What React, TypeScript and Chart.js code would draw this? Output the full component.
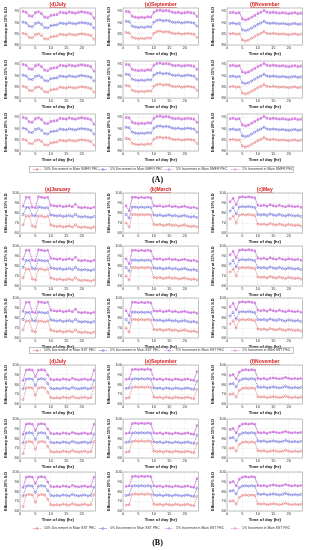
import React, { useEffect, useRef } from "react";
import { Chart, registerables } from "chart.js";
Chart.register(...registerables);

const hours = [1, 2, 3, 4, 5, 6, 7, 8, 9, 10, 11, 12, 13, 14, 15, 16, 17, 18, 19, 20, 21, 22, 23, 24];
const xTicks = [0, 5, 10, 15, 20];
const aYTicks = [80, 85, 90, 95];
const bYTicks = [60, 70, 80, 90, 100];
const rowLabels = ["Efficiency at 10% S.D", "Efficiency at 15% S.D", "Efficiency at 20% S.D"];
const legendA = ["10% Decrement in Main SMFR PEC", "5% Decrement in Main SMFR PEC", "5% Increment in Main SMFR PEC", "1% Increment in Main SMFR PEC"];
const legendB = ["10% Decrement in Main SST PEC", "5% Decrement in Main SST PEC", "5% Increment in Main SST PEC", "1% Increment in Main SST PEC"];
const titlesA = ["(d)July", "(e)September", "(f)November"];
const titlesB1 = ["(a)January", "(b)March", "(c)May"];
const titlesB2 = ["(d)July", "(e)September", "(f)November"];

// Section A (SMFR)
const aJulDec10 = [85.2, 84.8, 83.4, 83.2, 84.6, 85.0, 84.2, 82.8, 82.6, 83.6, 83.8, 84.0, 84.8, 84.6, 84.4, 84.9, 84.6, 84.4, 84.8, 85.0, 84.8, 84.6, 84.2, 82.6];
const aJulDec5 = [90.2, 89.8, 88.4, 88.2, 89.6, 90.0, 89.2, 87.8, 87.6, 88.6, 88.8, 89.0, 89.8, 89.6, 89.4, 89.9, 89.6, 89.4, 89.8, 90.0, 89.8, 89.6, 89.2, 87.6];
const aJulInc5 = [94.8, 94.4, 92.8, 92.6, 94.2, 94.6, 93.8, 92.2, 92.0, 93.0, 93.2, 93.4, 94.4, 94.2, 94.0, 94.5, 94.2, 94.0, 94.4, 94.6, 94.4, 94.2, 93.8, 91.8];
const aJulInc1 = [95.2, 94.8, 93.2, 93.0, 94.6, 95.0, 94.2, 92.6, 92.4, 93.4, 93.6, 93.8, 94.8, 94.6, 94.4, 94.9, 94.6, 94.4, 94.8, 95.0, 94.8, 94.6, 94.2, 92.2];

const aSepDec10 = [85.6, 85.4, 83.4, 83.0, 82.8, 83.0, 82.8, 83.2, 83.0, 85.2, 86.0, 86.2, 85.8, 86.0, 85.8, 85.2, 85.0, 85.2, 84.8, 85.0, 85.2, 85.0, 84.8, 83.4];
const aSepDec5 = [90.6, 90.4, 88.4, 88.0, 87.8, 88.0, 87.8, 88.2, 88.0, 90.2, 91.0, 91.2, 90.8, 91.0, 90.8, 90.2, 90.0, 90.2, 89.8, 90.0, 90.2, 90.0, 89.8, 88.4];
const aSepInc5 = [94.8, 94.6, 92.6, 92.2, 92.0, 92.2, 92.0, 92.4, 92.2, 94.4, 95.2, 95.4, 95.0, 95.2, 95.0, 94.4, 94.2, 94.4, 94.0, 94.2, 94.4, 94.2, 94.0, 92.6];
const aSepInc1 = [95.2, 95.0, 93.0, 92.6, 92.4, 92.6, 92.4, 92.8, 92.6, 94.8, 95.6, 95.8, 95.4, 95.6, 95.4, 94.8, 94.6, 94.8, 94.4, 94.6, 94.8, 94.6, 94.4, 93.0];

const aNovDec10 = [85.0, 85.2, 84.8, 85.0, 82.2, 81.8, 82.2, 83.0, 83.8, 84.6, 85.2, 86.0, 85.2, 85.0, 85.2, 85.0, 84.8, 85.0, 84.8, 84.6, 84.8, 85.0, 84.6, 84.8];
const aNovDec5 = [89.6, 89.8, 89.4, 89.6, 86.8, 86.4, 86.8, 87.6, 88.4, 89.2, 89.8, 90.6, 89.8, 89.6, 89.8, 89.6, 89.4, 89.6, 89.4, 89.2, 89.4, 89.6, 89.2, 89.4];
const aNovInc5 = [94.2, 94.4, 94.0, 94.2, 91.4, 91.0, 91.4, 92.2, 93.0, 93.8, 94.4, 95.2, 94.4, 94.2, 94.4, 94.2, 94.0, 94.2, 94.0, 93.8, 94.0, 94.2, 93.8, 94.0];
const aNovInc1 = [94.6, 94.8, 94.4, 94.6, 91.8, 91.4, 91.8, 92.6, 93.4, 94.2, 94.8, 95.6, 94.8, 94.6, 94.8, 94.6, 94.4, 94.6, 94.4, 94.2, 94.4, 94.6, 94.2, 94.4];

// Section B (SST) January, March, May
const bJanDec10 = [68, 77, 77, 67, 66, 77, 77, 76, 77, 68, 67, 66.5, 67, 66, 66.5, 67, 66, 68, 66, 65.5, 66, 65.5, 65, 66];
const bJanDec5 = [78.5, 85.5, 85.5, 77.5, 77, 86, 85.5, 85, 85.5, 78, 77.5, 77, 77.5, 76.5, 77, 77.5, 76.5, 78.5, 76.5, 76, 76.5, 76, 75.5, 76.5];
const bJanInc5 = [86.5, 95.5, 95.5, 85.5, 85, 96, 95.5, 95, 95.5, 87.5, 87, 86.5, 87, 86, 86.5, 87, 86, 88.5, 85.5, 85, 85.5, 85, 84.5, 85.5];
const bJanInc1 = [87, 96, 96, 86, 85.5, 96.5, 96, 95.5, 96, 88, 87.5, 87, 87.5, 86.5, 87, 87.5, 86.5, 89, 86, 85.5, 86, 85.5, 85, 86];

const bMarDec10 = [70, 66, 78.5, 78.5, 78, 78.5, 78, 78.5, 78, 68.5, 68, 68.5, 67.5, 68, 68.5, 67.5, 68, 67, 67.5, 68, 67, 66.5, 67, 66];
const bMarDec5 = [78.5, 75, 86, 86, 85.5, 86, 85.5, 86, 85.5, 78, 77.5, 78, 77, 77.5, 78, 77, 77.5, 76.5, 77, 77.5, 76.5, 76, 76.5, 75.5];
const bMarInc5 = [87, 82, 95.5, 95.5, 95, 95.5, 95, 95.5, 95, 87, 86.5, 87, 86, 86.5, 87, 86, 86.5, 85.5, 86, 86.5, 85.5, 85, 85.5, 84.5];
const bMarInc1 = [87.5, 82.5, 96, 96, 95.5, 96, 95.5, 96, 95.5, 87.5, 87, 87.5, 86.5, 87, 87.5, 86.5, 87, 86, 86.5, 87, 86, 85.5, 86, 85];

const bMayDec10 = [74, 77, 70, 78, 78.5, 78, 78.5, 78, 77.5, 69, 68.5, 69, 68, 69.5, 68.5, 68, 69, 68, 67.5, 68.5, 68, 67.5, 68, 67];
const bMayDec5 = [82, 85.5, 79, 86, 86.5, 86, 86.5, 86, 85.5, 78.5, 78, 78.5, 77.5, 79, 78, 77.5, 78.5, 77.5, 77, 78, 77.5, 77, 77.5, 76.5];
const bMayInc5 = [91, 94.5, 88, 95.5, 96, 95.5, 96, 95.5, 95, 87.5, 87, 87.5, 86.5, 88, 87, 86.5, 87.5, 86.5, 86, 87, 86.5, 86, 86.5, 85.5];
const bMayInc1 = [91.5, 95, 88.5, 96, 96.5, 96, 96.5, 96, 95.5, 88, 87.5, 88, 87, 88.5, 87.5, 87, 88, 87, 86.5, 87.5, 87, 86.5, 87, 86];

// Section B (SST) July, September, November
const bJulDec10 = [64.5, 76.5, 77, 76.5, 69, 76.5, 77, 76.5, 72, 66.5, 66, 66.5, 66, 67, 66.5, 66, 67.5, 66.5, 66, 66.5, 67, 66, 66.5, 77];
const bJulDec5 = [75.5, 85.5, 86, 85.5, 79, 85.5, 86, 85.5, 81, 76, 75.5, 76, 75.5, 76.5, 76, 75.5, 77, 76, 75.5, 76, 76.5, 75.5, 76, 84.5];
const bJulInc5 = [84, 94.5, 95, 94.5, 88, 94.5, 95, 94.5, 89.5, 85, 84.5, 85, 84.5, 85.5, 85, 84.5, 86, 85, 84.5, 85, 85.5, 84.5, 85, 94.5];
const bJulInc1 = [84.5, 95, 95.5, 95, 88.5, 95, 95.5, 95, 90, 85.5, 85, 85.5, 85, 86, 85.5, 85, 86.5, 85.5, 85, 85.5, 86, 85, 85.5, 95];

const bSepDec10 = [66, 66.5, 77, 77.5, 77, 77.5, 77, 77.5, 77, 67, 66.5, 67, 66, 67, 66.5, 66, 67, 66.5, 66, 66.5, 67, 66, 65.5, 75];
const bSepDec5 = [76, 76.5, 85.5, 86, 85.5, 86, 85.5, 86, 85.5, 76.5, 76, 76.5, 75.5, 76.5, 76, 75.5, 76.5, 76, 75.5, 76, 76.5, 75.5, 75, 83.5];
const bSepInc5 = [85, 85.5, 95, 95.5, 95, 95.5, 95, 95.5, 95, 85.5, 85, 85.5, 84.5, 85.5, 85, 84.5, 85.5, 85, 84.5, 85, 85.5, 84.5, 84, 93];
const bSepInc1 = [85.5, 86, 95.5, 96, 95.5, 96, 95.5, 96, 95.5, 86, 85.5, 86, 85, 86, 85.5, 85, 86, 85.5, 85, 85.5, 86, 85, 84.5, 93.5];

const bNovDec10 = [70, 70.5, 67, 74, 76, 76.5, 76, 76.5, 76, 67.5, 67, 67.5, 66.5, 67, 67.5, 67, 66.5, 67, 68, 67, 66.5, 67, 66.5, 67];
const bNovDec5 = [80.5, 81, 77.5, 84, 85.5, 86, 85.5, 86, 85.5, 77.5, 77, 77.5, 76.5, 77, 77.5, 77, 76.5, 77, 78, 77, 76.5, 77, 76.5, 77];
const bNovInc5 = [89, 90, 85.5, 92.5, 94.5, 95, 94.5, 95, 94.5, 86, 85.5, 86, 85, 86, 86.5, 86, 85.5, 86, 87, 86, 85.5, 86, 85.5, 86];
const bNovInc1 = [89.5, 90.5, 86, 93, 95, 95.5, 95, 95.5, 95, 86.5, 86, 86.5, 85.5, 86.5, 87, 86.5, 86, 86.5, 87.5, 86.5, 86, 86.5, 86, 86.5];

const seriesColors = ["#e06666", "#5b5bd6", "#b56ee0", "#e872d2"];
const seriesShapes = ["circle", "circle", "triangle", "rect"];

const monthsA = [
  [aJulDec10, aJulDec5, aJulInc5, aJulInc1],
  [aSepDec10, aSepDec5, aSepInc5, aSepInc1],
  [aNovDec10, aNovDec5, aNovInc5, aNovInc1],
];
const monthsB1 = [
  [bJanDec10, bJanDec5, bJanInc5, bJanInc1],
  [bMarDec10, bMarDec5, bMarInc5, bMarInc1],
  [bMayDec10, bMayDec5, bMayInc5, bMayInc1],
];
const monthsB2 = [
  [bJulDec10, bJulDec5, bJulInc5, bJulInc1],
  [bSepDec10, bSepDec5, bSepInc5, bSepInc1],
  [bNovDec10, bNovDec5, bNovInc5, bNovInc1],
];

const colPlotLeft = [20, 123, 227];
const plotW = 77;
const padL = 20;
const padT = 8;
const padB = 13;
const padR = 3;
const FONT = "Arial, 'Liberation Sans', sans-serif";

type PanelProps = {
  left: number; top: number; plotH: number; title?: string; yLabel: string;
  series: number[][]; yMin: number; yMax: number; yTicks: number[];
};

function Panel(p: PanelProps) {
  const ref = useRef<HTMLCanvasElement | null>(null);
  useEffect(() => {
    if (!ref.current) return;
    const overlay = {
      id: "overlay",
      afterDraw(chart: any) {
        const { ctx, chartArea: a } = chart;
        ctx.save();
        ctx.strokeStyle = "#9a9a9a";
        ctx.lineWidth = 0.6;
        ctx.strokeRect(a.left, a.top, a.right - a.left, a.bottom - a.top);
        ctx.fillStyle = "#111";
        ctx.font = `bold 4.3px ${FONT}`;
        ctx.textAlign = "center";
        ctx.textBaseline = "middle";
        ctx.fillText("Time of day (hr)", (a.left + a.right) / 2, a.bottom + 8.5);
        ctx.save();
        ctx.translate(a.left - 14, (a.top + a.bottom) / 2);
        ctx.rotate(-Math.PI / 2);
        ctx.font = `bold 3.9px ${FONT}`;
        ctx.fillText(p.yLabel, 0, 0);
        ctx.restore();
        if (p.title) {
          ctx.fillStyle = "#d41c1c";
          ctx.font = `bold 5px ${FONT}`;
          ctx.textBaseline = "bottom";
          ctx.fillText(p.title, (a.left + a.right) / 2, a.top - 0.5);
          const tw = ctx.measureText(p.title).width;
          ctx.strokeStyle = "#d41c1c";
          ctx.lineWidth = 0.4;
          ctx.beginPath();
          ctx.moveTo((a.left + a.right) / 2 - tw / 2, a.top - 0.5);
          ctx.lineTo((a.left + a.right) / 2 + tw / 2, a.top - 0.5);
          ctx.stroke();
        }
        ctx.restore();
      },
    };
    const chart = new Chart(ref.current, {
      type: "line",
      data: {
        datasets: p.series.map((vals, i) => ({
          label: String(i),
          data: hours.map((x, j) => ({ x, y: vals[j] })),
          borderColor: seriesColors[i],
          backgroundColor: "rgba(0,0,0,0)",
          borderWidth: 0.6,
          borderDash: [1.5, 0.8],
          pointRadius: 1.1,
          pointBorderWidth: 0.5,
          pointStyle: seriesShapes[i] as any,
          pointBackgroundColor: "rgba(255,255,255,0)",
          pointBorderColor: seriesColors[i],
          tension: 0,
        })),
      },
      options: {
        responsive: false,
        maintainAspectRatio: false,
        animation: false,
        events: [],
        layout: { padding: { top: padT, right: padR, left: 0, bottom: 0 } },
        plugins: { legend: { display: false }, tooltip: { enabled: false }, title: { display: false } },
        scales: {
          x: {
            type: "linear",
            min: 0,
            max: 24.5,
            afterBuildTicks: (s: any) => { s.ticks = xTicks.map((v) => ({ value: v })); },
            afterFit: (s: any) => { s.height = padB; },
            ticks: { font: { size: 4, family: FONT }, color: "#333", padding: 0.5, maxRotation: 0, autoSkip: false, callback: (v: any) => String(v) },
            grid: { color: "#d4d4d4", lineWidth: 0.4, drawTicks: false },
            border: { display: false, dash: [1, 1] },
          },
          y: {
            type: "linear",
            min: p.yMin,
            max: p.yMax,
            afterBuildTicks: (s: any) => { s.ticks = p.yTicks.map((v) => ({ value: v })); },
            afterFit: (s: any) => { s.width = padL; },
            ticks: { font: { size: 4, family: FONT }, color: "#333", padding: 1, autoSkip: false, callback: (v: any) => String(v) },
            grid: { color: "#d4d4d4", lineWidth: 0.4, drawTicks: false },
            border: { display: false, dash: [1, 1] },
          },
        },
      },
      plugins: [overlay],
    } as any);
    return () => chart.destroy();
  }, []);
  const w = padL + plotW + padR;
  const h = padT + p.plotH + padB;
  return (
    <canvas
      ref={ref}
      width={w}
      height={h}
      style={{ position: "absolute", left: p.left, top: p.top, width: w, height: h }}
    />
  );
}

function Legend({ top, labels, box }: { top: number; labels: string[]; box: boolean }) {
  const ref = useRef<HTMLCanvasElement | null>(null);
  const W = 265, H = 7;
  useEffect(() => {
    const c = ref.current;
    if (!c) return;
    const ctx = c.getContext("2d");
    if (!ctx) return;
    ctx.clearRect(0, 0, W, H);
    if (box) {
      ctx.strokeStyle = "#999";
      ctx.lineWidth = 0.6;
      ctx.strokeRect(0.5, 0.5, W - 1, H - 1);
    }
    ctx.font = `3.4px ${FONT}`;
    ctx.textBaseline = "middle";
    labels.forEach((t, i) => {
      const x0 = 4 + i * 66;
      const y = H / 2;
      ctx.strokeStyle = seriesColors[i];
      ctx.lineWidth = 0.6;
      ctx.setLineDash([1.5, 0.8]);
      ctx.beginPath();
      ctx.moveTo(x0, y);
      ctx.lineTo(x0 + 8, y);
      ctx.stroke();
      ctx.setLineDash([]);
      ctx.lineWidth = 0.5;
      ctx.beginPath();
      ctx.arc(x0 + 4, y, 1, 0, Math.PI * 2);
      ctx.stroke();
      ctx.fillStyle = "#333";
      ctx.fillText(t, x0 + 11, y);
    });
  }, []);
  return <canvas ref={ref} width={W} height={H} style={{ position: "absolute", left: 29, top, width: W, height: H }} />;
}

type Group = { tops: number[]; plotH: number; months: number[][][]; titles: string[]; yMin: number; yMax: number; yTicks: number[] };

const groups: Group[] = [
  { tops: [8, 61, 114], plotH: 37, months: monthsA, titles: titlesA, yMin: 80, yMax: 96.5, yTicks: aYTicks },
  { tops: [193, 245.5, 298], plotH: 40, months: monthsB1, titles: titlesB1, yMin: 60, yMax: 100, yTicks: bYTicks },
  { tops: [365, 418.5, 472], plotH: 39, months: monthsB2, titles: titlesB2, yMin: 60, yMax: 100, yTicks: bYTicks },
];

export default function App() {
  const panels: React.ReactNode[] = [];
  groups.forEach((g, gi) => {
    g.tops.forEach((t, ri) => {
      colPlotLeft.forEach((cl, ci) => {
        panels.push(
          <Panel
            key={`${gi}-${ri}-${ci}`}
            left={cl - padL}
            top={t - padT}
            plotH={g.plotH}
            title={ri === 0 ? g.titles[ci] : undefined}
            yLabel={rowLabels[ri]}
            series={g.months[ci]}
            yMin={g.yMin}
            yMax={g.yMax}
            yTicks={g.yTicks}
          />
        );
      });
    });
  });
  return (
    <div style={{ position: "absolute", left: 0, top: 0, width: 315, height: 550, background: "#fff", overflow: "hidden" }}>
      {panels}
      <Legend top={166} labels={legendA} box={true} />
      <div style={{ position: "absolute", left: 0, width: 315, top: 175, lineHeight: "10px", textAlign: "center", fontFamily: "'Liberation Serif', serif", fontWeight: "bold", fontSize: 8 }}>(A)</div>
      <Legend top={346.5} labels={legendB} box={true} />
      <Legend top={524.5} labels={legendB} box={false} />
      <div style={{ position: "absolute", left: 0, width: 315, top: 538, lineHeight: "10px", textAlign: "center", fontFamily: "'Liberation Serif', serif", fontWeight: "bold", fontSize: 8 }}>(B)</div>
    </div>
  );
}
